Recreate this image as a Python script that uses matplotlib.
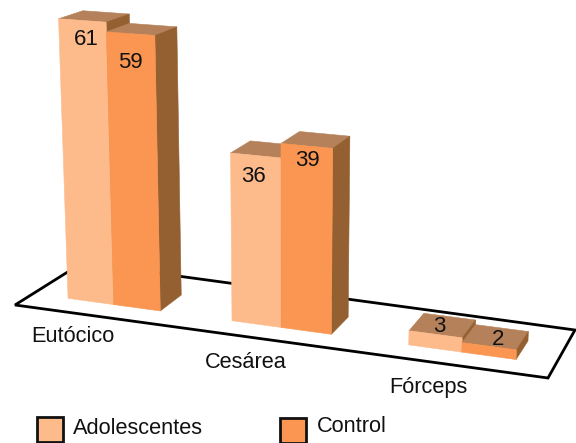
import numpy as np
import matplotlib
matplotlib.use("Agg")
import matplotlib.pyplot as plt
from matplotlib.patches import Polygon, Rectangle

plt.rcParams["font.family"] = ["Liberation Sans", "DejaVu Sans"]

# Chart data
categories = ["Eutócico", "Cesárea", "Fórceps"]
series_names = ["Adolescentes", "Control"]
adolescentes = [61, 36, 3]
control = [59, 39, 2]

# Colours: front face per series, shared top and side faces
front_colors = ["#FDBB8B", "#FA9651"]
top_color = "#B5815A"
side_color = "#956031"

# Camera matrix of the 3-D scene: (x along categories, y depth, z value) -> canvas pixels
CAMERA = np.array([
    [44.4415, 25.5832, -0.195984, 68.0949],
    [3.08124, -7.37073, -4.59679, 298.359],
    [-0.0103304, 0.0279413, -0.000682553, 1.0],
])
GROUP_STEP = 3.5
BAR_DEPTH = 1.0
FLOOR = [(-0.782, -0.724), (-0.772, 2.098), (9.704, 1.889), (9.713, -0.657)]

# Label placement, as pixel offsets from the centre of each bar's front top edge
value_offsets = [[(4, 19), (0, 29)], [(-2, 21), (1, 15)], [(4, -8), (9, -7)]]
category_pos = [(73, 337), (246, 362), (428, 387)]
legend_boxes = [(37, 417), (280, 418)]
legend_text_x = [73, 317]
legend_text_y = [428, 427]
VALUE_FONT = 16
TEXT_FONT = 15.7


def project(x, y, z):
    u, v, w = CAMERA @ np.array([x, y, z, 1.0])
    return u / w, v / w


def face(ax, corners, color, zorder):
    xy = [project(*c) for c in corners]
    ax.add_patch(Polygon(xy, closed=True, facecolor=color, edgecolor=color,
                         linewidth=0.4, joinstyle="round", zorder=zorder))


fig = plt.figure(figsize=(5.76, 4.43), dpi=100)
ax = fig.add_axes([0, 0, 1, 1])
ax.set_xlim(0, 576)
ax.set_ylim(443, 0)
ax.axis("off")

# Floor outline
floor_xy = [project(x, y, 0) for x, y in FLOOR]
ax.add_patch(Polygon(floor_xy, closed=True, facecolor="white", edgecolor="black",
                     linewidth=2.0, joinstyle="miter", zorder=1))

z = 2
for g, name in enumerate(categories):
    for s, values in enumerate((adolescentes, control)):
        v = values[g]
        x0 = g * GROUP_STEP + s
        x1 = x0 + 1
        d = BAR_DEPTH
        # Top, right side and front of each box, back to front
        face(ax, [(x0, 0, v), (x1, 0, v), (x1, d, v), (x0, d, v)], top_color, z)
        face(ax, [(x1, 0, 0), (x1, d, 0), (x1, d, v), (x1, 0, v)], side_color, z + 1)
        face(ax, [(x0, 0, 0), (x1, 0, 0), (x1, 0, v), (x0, 0, v)], front_colors[s], z + 2)
        z += 3

# Value labels above every box
for g in range(len(categories)):
    for s, values in enumerate((adolescentes, control)):
        v = values[g]
        x0 = g * GROUP_STEP + s
        cx, cy = project(x0 + 0.5, 0, v)
        dx, dy = value_offsets[g][s]
        ax.text(cx + dx, cy + dy, str(v), fontsize=VALUE_FONT, color="#111111",
                ha="center", va="center", zorder=100)

# Category names under the floor edge
for name, (px, py) in zip(categories, category_pos):
    ax.text(px, py, name, fontsize=TEXT_FONT, color="#111111",
            ha="center", va="center", zorder=100)

# Legend
for i, name in enumerate(series_names):
    bx, by = legend_boxes[i]
    ax.add_patch(Rectangle((bx, by), 26, 25, facecolor=front_colors[i],
                           edgecolor="#111111", linewidth=2.0, clip_on=False, zorder=100))
    ax.text(legend_text_x[i], legend_text_y[i], name, fontsize=TEXT_FONT, color="#111111",
            ha="left", va="center", zorder=100)

fig.savefig("out.png", dpi=100)
